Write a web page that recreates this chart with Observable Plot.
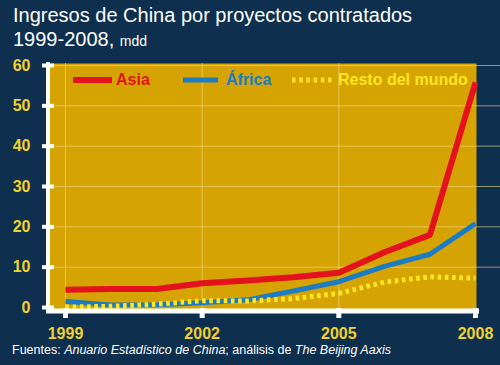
<!DOCTYPE html>
<html>
<head>
<meta charset="utf-8">
<script src="https://cdn.jsdelivr.net/npm/d3@7"></script>
<script src="https://cdn.jsdelivr.net/npm/@observablehq/plot@0.6"></script>
<style>
  html, body { margin: 0; padding: 0; background: #0e2f4e; }
  #wrap { position: relative; width: 500px; height: 365px; overflow: hidden; background: #0e2f4e;
          font-family: "Liberation Sans", Arial, Helvetica, sans-serif; }
  #chart { position: absolute; left: 0; top: 0; }
  #title { position: absolute; left: 13px; top: 3px; color: #fff; font-size: 20px; line-height: 24px; white-space: nowrap; }
  #title .unit { font-size: 14px; }
  #source { position: absolute; left: 12px; top: 343px; color: #fff; font-size: 12.5px; line-height: 15px; white-space: nowrap; }
  .leg { position: absolute; top: 71px; font-size: 16px; font-weight: bold; line-height: 18px; white-space: nowrap; }
  .sw { position: absolute; }
</style>
</head>
<body>
<div id="wrap">
  <div id="chart"></div>
  <div id="title">Ingresos de China por proyectos contratados<br>1999-2008, <span class="unit">mdd</span></div>
  <svg class="sw" style="left:73px;top:76px" width="40" height="8"><line x1="0" y1="4" x2="39" y2="4" stroke="#e3121c" stroke-width="6"/></svg>
  <div class="leg" style="left:116px;color:#e3121c">Asia</div>
  <svg class="sw" style="left:183px;top:76px" width="36" height="8"><line x1="0" y1="4" x2="35" y2="4" stroke="#1b7cc4" stroke-width="5"/></svg>
  <div class="leg" style="left:226px;color:#1b7cc4">África</div>
  <svg class="sw" style="left:292px;top:76px" width="41" height="8"><line x1="0" y1="4" x2="40" y2="4" stroke="#ffe61f" stroke-width="5" stroke-dasharray="3.6,3.6"/></svg>
  <div class="leg" style="left:338px;color:#ffe61f">Resto del mundo</div>
  <div id="source">Fuentes: <i>Anuario Estadístico de China</i>; análisis de <i>The Beijing Aaxis</i></div>
</div>
<script>
// ---- data ----
const years = [1999, 2000, 2001, 2002, 2003, 2004, 2005, 2006, 2007, 2008];
const asia = [4.4, 4.6, 4.6, 6.0, 6.7, 7.5, 8.6, 13.7, 18.0, 55.8];
const africa = [1.5, 0.6, 0.7, 1.2, 1.9, 4.1, 6.4, 10.2, 13.2, 20.8];
const resto = [0.1, 0.3, 0.8, 1.7, 1.6, 2.2, 3.5, 6.3, 7.6, 7.3];
const xTicks = [1999, 2002, 2005, 2008];
const xGrid = [1999, 2002, 2005];
const yTicks = [0, 10, 20, 30, 40, 50, 60];

const rows = (vals) => years.map((y, i) => ({year: y, value: vals[i]}));

const gold = "#d5a302";
const labelYellow = "#f0d12e";
const gridCol = "#f3dc8a";

const chart = Plot.plot({
  width: 500,
  height: 365,
  marginLeft: 48,
  marginRight: 24,
  marginTop: 63,
  marginBottom: 55,
  style: {background: "transparent", fontFamily: "Liberation Sans, Arial, sans-serif", overflow: "visible"},
  x: {domain: [1999, 2008], range: [65, 475], axis: null, label: null},
  y: {domain: [0, 60], range: [307, 65], axis: null, label: null},
  marks: [
    Plot.frame({fill: gold, stroke: null}),
    Plot.gridY(yTicks.filter(d => d > 0), {stroke: gridCol, strokeOpacity: 0.6, strokeWidth: 1, insetRight: -25}),
    Plot.gridX(xGrid, {stroke: gridCol, strokeOpacity: 0.6, strokeWidth: 1}),
    Plot.line(rows(africa), {x: "year", y: "value", stroke: "#1b7cc4", strokeWidth: 5, strokeLinecap: "butt", strokeLinejoin: "miter"}),
    Plot.line(rows(resto), {x: "year", y: "value", stroke: "#ffe61f", strokeWidth: 5, strokeDasharray: "3.6,3.6", strokeLinecap: "butt", strokeLinejoin: "miter"}),
    Plot.line(rows(asia), {x: "year", y: "value", stroke: "#e3121c", strokeWidth: 6, strokeLinecap: "butt", strokeLinejoin: "miter"}),
    // y axis line
    Plot.ruleX([xTicks[0]], {stroke: "white", strokeWidth: 4, dx: -17.5, insetTop: -1, insetBottom: -3}),
    // y axis ticks
    Plot.ruleY(yTicks, {stroke: "white", strokeWidth: 4, insetLeft: -6, insetRight: 422}),
    // x axis line
    Plot.ruleY([0], {stroke: "white", strokeWidth: 5, dy: 3.5, insetLeft: -2, insetRight: -3}),
    // x axis ticks
    Plot.ruleX(xTicks, {stroke: "white", strokeWidth: 5, insetTop: 245, insetBottom: -8}),
    Plot.axisY({ticks: yTicks, tickSize: 0, tickPadding: 18, fill: labelYellow, fontSize: 16, fontWeight: "bold", tickFormat: d => String(d), label: null}),
    Plot.axisX({ticks: xTicks, tickSize: 0, tickPadding: 17, fill: labelYellow, fontSize: 16, fontWeight: "bold", tickFormat: d => String(d), label: null})
  ]
});
document.getElementById("chart").appendChild(chart);
</script>
</body>
</html>
